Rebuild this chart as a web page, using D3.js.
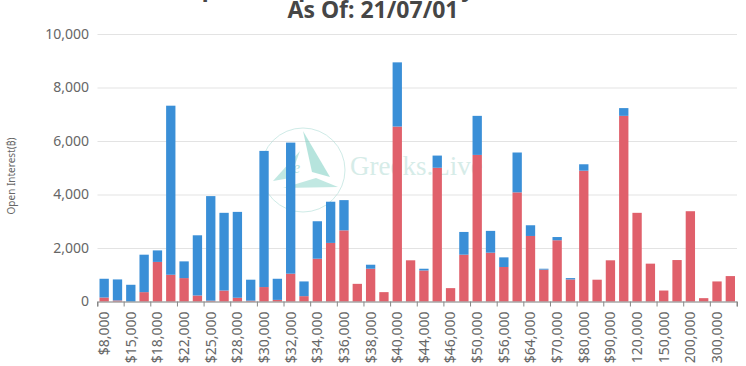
<!DOCTYPE html>
<html>
<head>
  <title>BTC Open Interest By Strike</title>
  <script src="https://d3js.org/d3.v7.min.js"></script>
  <style>
    body { margin: 0; background: #fff; }
    text { font-family: "Noto Sans", sans-serif; }
  </style>
</head>
<body>
  <script>
    var width = 746,
        height = 366;

    // strikes, one bar each; only every other one gets a label
    var strikes = [8000, 10000, 15000, 16000, 18000, 20000, 22000, 24000, 25000, 26000,
      28000, 29000, 30000, 31000, 32000, 33000, 34000, 35000, 36000, 37000,
      38000, 39000, 40000, 42000, 44000, 45000, 46000, 48000, 50000, 52000,
      56000, 60000, 64000, 65000, 70000, 75000, 80000, 85000, 90000, 100000,
      120000, 140000, 150000, 160000, 200000, 250000, 300000, 400000];

    // open interest, red part (bottom)
    var callOI = [150, 40, 0, 350, 1480, 1000, 875, 225, 30, 410,
      140, 30, 540, 60, 1040, 200, 1600, 2190, 2660, 660,
      1225, 350, 6540, 1540, 1160, 5000, 500, 1750, 5480, 1825,
      1290, 4080, 2450, 1190, 2290, 825, 4890, 815, 1540, 6940,
      3315, 1415, 410, 1550, 3375, 125, 750, 950];

    // open interest, blue part (top)
    var putOI = [700, 785, 625, 1400, 430, 6320, 625, 2250, 3910, 2905,
      3210, 785, 5090, 790, 4900, 550, 1400, 1540, 1130, 0,
      150, 0, 2400, 0, 65, 455, 0, 850, 1460, 815,
      360, 1490, 400, 35, 120, 50, 240, 0, 0, 290,
      0, 0, 0, 0, 0, 0, 0, 0];

    var yTicks = [0, 2000, 4000, 6000, 8000, 10000];

    var svg = d3.select('body')
      .append('svg')
      .attr('width', width)
      .attr('height', height);

    var x = d3.scaleBand()
      .domain(strikes)
      .range([97.5, 737])
      .paddingInner(0.3)
      .paddingOuter(0.15);

    var y = d3.scaleLinear()
      .domain([0, 10000])
      .range([301.5, 34]);

    // title (first line sits mostly above the top edge, as in the original)
    svg.append('text')
      .attr('x', 373).attr('y', -4)
      .attr('text-anchor', 'middle')
      .style('font-size', '23px').style('font-weight', 'bold').style('fill', '#464646')
      .text('BTC Options Open Interest By Strike Price');
    svg.append('text')
      .attr('x', 373).attr('y', 17.5)
      .attr('text-anchor', 'middle')
      .style('font-size', '23px').style('font-weight', 'bold').style('fill', '#464646')
      .text('As Of: 21/07/01');

    // grid + y labels
    var yAxis = svg.append('g')
      .attr('transform', 'translate(97.5,0)')
      .call(d3.axisLeft(y).tickValues(yTicks).tickSize(-(737 - 97.5)).tickPadding(8)
        .tickFormat(d3.format(',')));
    yAxis.select('.domain').remove();
    yAxis.selectAll('.tick line').attr('stroke', '#e3e3e3');
    yAxis.selectAll('.tick text')
      .style('font-size', '14px').style('fill', '#666').attr('x', -8.5);

    svg.append('text')
      .attr('transform', 'translate(15,176) rotate(-90)')
      .attr('text-anchor', 'middle')
      .style('font-size', '10px').style('fill', '#666')
      .text('Open Interest(₿)');

    // watermark
    var wm = svg.append('g').attr('opacity', 0.55);
    wm.append('circle').attr('cx', 303).attr('cy', 170).attr('r', 42)
      .attr('fill', 'none').attr('stroke', '#a9dcd5').attr('stroke-width', 1);
    wm.append('path').attr('d', 'M303,131 L330,177 L312,172 Z').attr('fill', '#7ccfc2');
    wm.append('path').attr('d', 'M300,151 L273,181 L290,178 Z').attr('fill', '#8fd6cb');
    wm.append('path').attr('d', 'M283,188 L338,187 L316,178 Z').attr('fill', '#8fd6cb');
    wm.append('text').attr('x', 293).attr('y', 173)
      .style('font-family', '"Liberation Serif", serif').style('font-style', 'italic')
      .style('font-size', '16px').style('fill', '#7ccfc2').text('e');
    wm.append('text').attr('x', 350).attr('y', 175)
      .style('font-family', '"Liberation Serif", serif')
      .style('font-size', '27px').style('fill', '#b5ddd6').text('Greeks.Live');

    // stacked bars
    var stacked = d3.stack().keys(['call', 'put'])(strikes.map(function(s, i) {
      return { strike: s, call: callOI[i], put: putOI[i] };
    }));
    var colors = { call: '#e0606b', put: '#3a8fd7' };

    svg.append('g').selectAll('g')
      .data(stacked)
      .enter().append('g')
      .attr('fill', function(d) { return colors[d.key]; })
      .selectAll('rect')
      .data(function(d) { return d; })
      .enter().append('rect')
      .attr('x', function(d) { return x(d.data.strike); })
      .attr('width', x.bandwidth())
      .attr('y', function(d) { return y(d[1]); })
      .attr('height', function(d) { return y(d[0]) - y(d[1]); });

    // x axis, labels on every other strike, ticks on band edges
    // (six-digit labels lose their "$" below the bottom edge in the original)
    var labelled = strikes.filter(function(d, i) { return i % 2 === 0; });
    var xAxis = svg.append('g')
      .attr('transform', 'translate(0,301.5)')
      .call(d3.axisBottom(x).tickValues(labelled).tickSizeOuter(0).tickSize(5)
        .tickFormat(function(d) { return (d >= 100000 ? '' : '$') + d3.format(',')(d); }));
    xAxis.select('.domain').attr('stroke', '#888');
    xAxis.selectAll('.tick line')
      .attr('stroke', '#888')
      .attr('transform', 'translate(' + (-x.step() / 2) + ',0)');
    xAxis.append('line')
      .attr('x1', 737).attr('x2', 737).attr('y1', 0).attr('y2', 5).attr('stroke', '#888');
    xAxis.selectAll('.tick text')
      .style('font-size', '14px').style('fill', '#666')
      .attr('text-anchor', 'end')
      .attr('dy', '0.35em')
      .attr('transform', 'translate(0,10) rotate(-90)')
      .attr('x', 0).attr('y', 0);
  </script>
</body>
</html>
